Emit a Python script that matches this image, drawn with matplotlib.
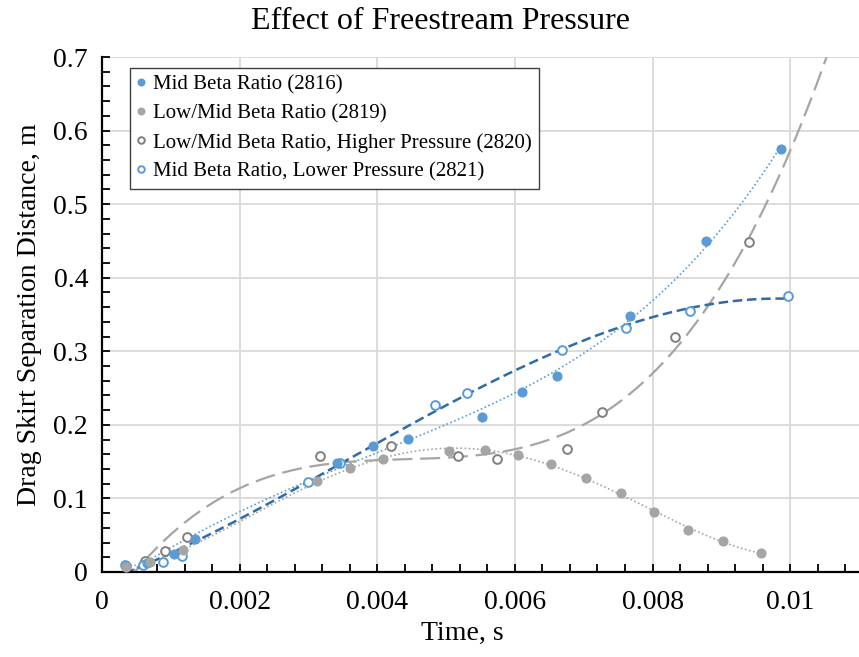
import matplotlib
matplotlib.use("Agg")
import matplotlib.pyplot as plt
from matplotlib.ticker import MultipleLocator, FuncFormatter
import numpy as np

plt.rcParams['font.family'] = ['Liberation Serif', 'DejaVu Serif']

# Mid Beta Ratio (2816)
t_2816 = [0.00035, 0.00065, 0.00105, 0.00135, 0.00341, 0.00394, 0.00444,
          0.00552, 0.00610, 0.00661, 0.00767, 0.00877, 0.00987]
d_2816 = [0.008, 0.012, 0.025, 0.045, 0.148, 0.171, 0.181,
          0.211, 0.245, 0.266, 0.348, 0.450, 0.575]

# Low/Mid Beta Ratio (2819)
t_2819 = [0.00035, 0.00070, 0.00118, 0.00312, 0.00360, 0.00408, 0.00504, 0.00556,
          0.00604, 0.00653, 0.00703, 0.00754, 0.00802, 0.00851, 0.00903, 0.00957]
d_2819 = [0.007, 0.014, 0.030, 0.124, 0.141, 0.154, 0.164, 0.166,
          0.159, 0.147, 0.128, 0.107, 0.082, 0.057, 0.042, 0.026]

# Low/Mid Beta Ratio, Higher Pressure (2820)
t_2820 = [0.00035, 0.00062, 0.00092, 0.00124, 0.00317, 0.00420,
          0.00518, 0.00574, 0.00676, 0.00726, 0.00833, 0.00940]
d_2820 = [0.008, 0.015, 0.029, 0.048, 0.158, 0.171,
          0.157, 0.153, 0.167, 0.218, 0.320, 0.449]

# Mid Beta Ratio, Lower Pressure (2821)
t_2821 = [0.00033, 0.00060, 0.00089, 0.00116, 0.00299, 0.00346,
          0.00484, 0.00531, 0.00668, 0.00762, 0.00855, 0.00997]
d_2821 = [0.0095, 0.0095, 0.014, 0.022, 0.122, 0.148,
          0.2265, 0.2436, 0.302, 0.331, 0.355, 0.375]

labels = ['Mid Beta Ratio (2816)', 'Low/Mid Beta Ratio (2819)',
          'Low/Mid Beta Ratio, Higher Pressure (2820)',
          'Mid Beta Ratio, Lower Pressure (2821)']

blue = '#5B9BD5'
gray = '#A5A5A5'
dgray = '#7F7F7F'
dblue = '#2E6BA8'

fig = plt.figure(figsize=(8.59, 6.57), dpi=100)
ax = fig.add_axes([0.1187, 0.1294, 0.8813, 0.7838])


def trend(x, y, deg, x_end=None):
    # polynomial trendline like excel's
    c = np.polyfit(x, y, deg)
    xs = np.linspace(min(x), x_end if x_end else max(x), 300)
    return xs, np.polyval(c, xs)


xs, ys = trend(t_2816, d_2816, 4)
ax.plot(xs, ys, color=blue, lw=1.2, ls=(0, (1, 1.5)), zorder=2)
xs, ys = trend(t_2819, d_2819, 4)
ax.plot(xs, ys, color=gray, lw=1.2, ls=(0, (1, 1.5)), zorder=2)
xs, ys = trend(t_2820, d_2820, 3, 0.0112)
ax.plot(xs, ys, color=gray, lw=1.6, ls=(0, (9, 3.5)), zorder=2)
xs, ys = trend(t_2821, d_2821, 3)
ax.plot(xs, ys, color=dblue, lw=1.8, ls=(0, (3.8, 1.9)), zorder=2)

# markers
ms = 6.3
ax.plot(t_2816, d_2816, 'o', ms=ms, color=blue, mec=blue, zorder=4, label=labels[0])
ax.plot(t_2819, d_2819, 'o', ms=ms, color=gray, mec=gray, zorder=4, label=labels[1])
ax.plot(t_2820, d_2820, 'o', ms=ms, mfc='white', mec=dgray, mew=1.4, zorder=3, label=labels[2])
ax.plot(t_2821, d_2821, 'o', ms=ms, mfc='white', mec=blue, mew=1.4, zorder=3, label=labels[3])

ax.set_xlim(0, 0.011)
ax.set_ylim(0, 0.7)
ax.set_xticks([0, 0.002, 0.004, 0.006, 0.008, 0.01])
ax.xaxis.set_minor_locator(MultipleLocator(0.0004))
ax.yaxis.set_major_locator(MultipleLocator(0.1))
ax.yaxis.set_minor_locator(MultipleLocator(0.02))
fmt = FuncFormatter(lambda v, p: '{:g}'.format(round(v, 6)))
ax.xaxis.set_major_formatter(fmt)
ax.yaxis.set_major_formatter(fmt)
ax.tick_params(which='both', direction='in', length=6, width=1.3, color='black',
               labelsize=20, top=False, right=False)
ax.tick_params(axis='x', which='major', pad=13)
ax.tick_params(axis='y', which='major', pad=10)

ax.grid(True, which='major', color='#D9D9D9', lw=1.3)
ax.set_axisbelow(True)
for s in ['top', 'right']:
    ax.spines[s].set_visible(False)
for s in ['left', 'bottom']:
    ax.spines[s].set_linewidth(1.6)
    ax.spines[s].set_color('black')

ax.set_xlabel('Time, s', fontsize=20, labelpad=6)
ax.xaxis.set_label_coords(0.476, -0.095)
ax.set_ylabel('Drag Skirt Separation Distance, m', fontsize=20, labelpad=8)
fig.text(0.513, 0.968, 'Effect of Freestream Pressure', fontsize=23, ha='center', va='center')

leg = ax.legend(loc='upper left', bbox_to_anchor=(0.037, 0.979), borderaxespad=0,
                fontsize=15, markerscale=0.75, handlelength=0.4, handletextpad=0.35,
                labelspacing=0.45, fancybox=False, edgecolor='#404040',
                borderpad=0.35, framealpha=1)
leg.get_frame().set_linewidth(1.0)

fig.savefig('out.png', dpi=100)
